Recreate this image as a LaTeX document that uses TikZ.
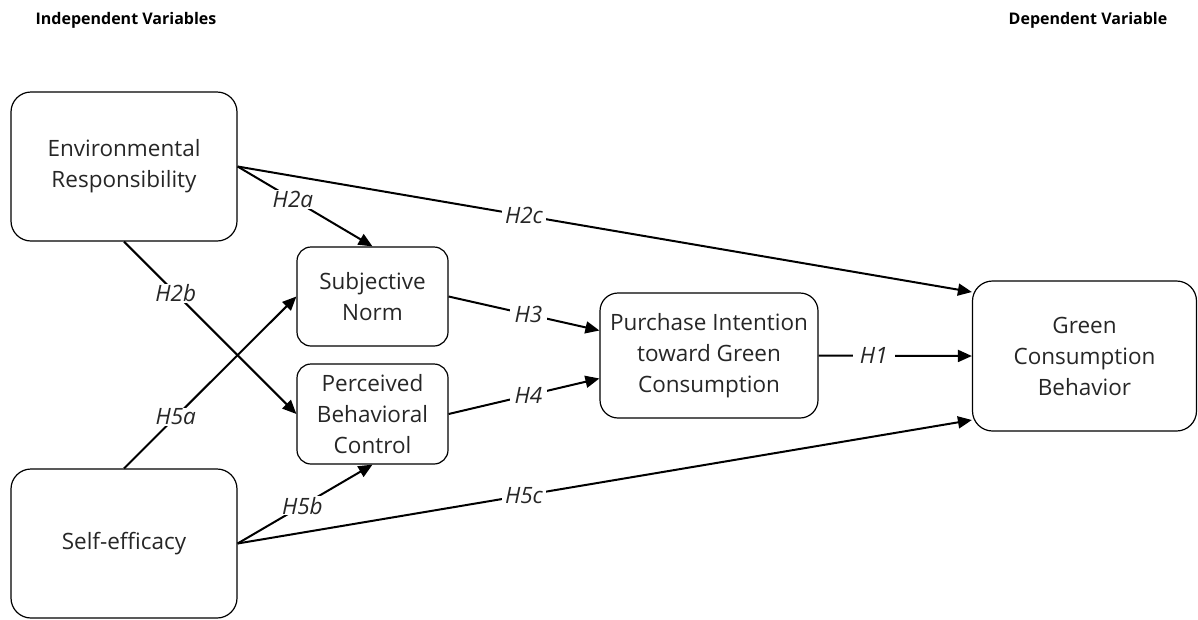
\documentclass[tikz,border=0pt]{standalone}
\usepackage{fontspec}
\setmainfont{Open Sans}
\usetikzlibrary{arrows.meta,calc}
\begin{document}
\begin{tikzpicture}[x=1pt,y=-1pt,
  box/.style={draw=black,line width=1.2pt,rounded corners=#1,align=center,
    font=\fontsize{22.5}{31}\selectfont,text=black!85,inner sep=0pt},
  conn/.style={line width=2pt,-{Triangle[length=14pt,width=12pt]}},
  hyp/.style={fill=white,inner xsep=3pt,inner ysep=1pt,font=\fontsize{22.5}{24}\selectfont\itshape,text=black!85},
  head/.style={font=\fontsize{16}{19}\selectfont\bfseries,text=black}]
\useasboundingbox (0,0) rectangle (1198,619);
\node[head] (hi) at (126,20) {Independent Variables};
\node[head] (hd) at (1088,20) {Dependent Variable};
\node[box=20pt,minimum width=226pt,minimum height=149pt] (env) at (124,166.5) {Environmental\\Responsibility};
\node[box=20pt,minimum width=226pt,minimum height=149pt] (self) at (124,543.5) {Self-efficacy};
\node[box=14pt,minimum width=151pt,minimum height=99pt] (sn) at (372.5,296.5) {Subjective\\Norm};
\node[box=14pt,minimum width=151pt,minimum height=100pt] (pbc) at (372.5,414) {Perceived\\Behavioral\\Control};
\node[box=18pt,minimum width=218pt,minimum height=125pt] (pi) at (709,355.5) {Purchase Intention\\toward Green\\Consumption};
\node[box=20pt,minimum width=224pt,minimum height=150pt] (gc) at (1084.5,356) {Green\\Consumption\\Behavior};
\draw[conn] (env.east) -- node[hyp,pos=0.39] {H2c} ($(gc.west)+(0,-64)$);
\draw[conn] (env.east) -- node[hyp,pos=0.41,inner xsep=1pt] {H2a} (sn.north);
\draw[conn] (env.south) -- node[hyp,pos=0.30,inner xsep=1pt] {H2b} (pbc.west);
\draw[conn] (self.north) -- node[hyp,pos=0.30,inner xsep=1pt] {H5a} (sn.west);
\draw[conn] (self.east) -- node[hyp,pos=0.48,inner xsep=1pt] {H5b} (pbc.south);
\draw[conn] (self.east) -- node[hyp,pos=0.39] {H5c} ($(gc.west)+(0,64)$);
\draw[conn] (sn.east) -- node[hyp,pos=0.53,inner xsep=5pt] {H3} ($(pi.west)+(0,-25)$);
\draw[conn] (pbc.east) -- node[hyp,pos=0.53,inner xsep=5pt] {H4} ($(pi.west)+(0,23)$);
\draw[conn] (pi.east) -- node[hyp,pos=0.36,inner xsep=7pt] {H1} (gc.west);
\end{tikzpicture}
\end{document}
